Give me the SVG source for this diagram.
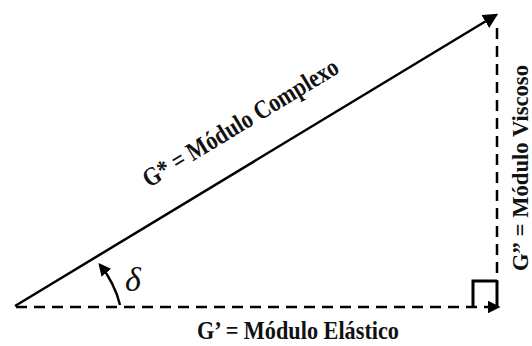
<svg xmlns="http://www.w3.org/2000/svg" width="532" height="346" viewBox="0 0 532 346">
<defs>
<marker id="ah" markerWidth="6" markerHeight="6" refX="5" refY="3" orient="auto" markerUnits="strokeWidth"><path d="M0,0 L6,3 L0,6 Z" fill="#000"/></marker>
<marker id="ahs" markerWidth="5" markerHeight="5" refX="4" refY="2.5" orient="auto" markerUnits="strokeWidth"><path d="M0,0 L5,2.5 L0,5 Z" fill="#000"/></marker>
<style>
.lbl{font-family:"Liberation Serif","Times New Roman",serif;font-weight:bold;fill:#111}
.solid{stroke:#000;stroke-width:2.5;fill:none}
.dash{stroke:#000;stroke-width:2.5;fill:none;stroke-dasharray:11 7}
</style>
</defs>
<rect width="532" height="346" fill="#fff"/>
<g id="connectors">
<line class="solid" x1="15" y1="306" x2="496" y2="15" marker-end="url(#ah)"/>
<line class="dash" x1="16" y1="307" x2="498" y2="307" marker-end="url(#ahs)"/>
<line class="dash" x1="497" y1="28" x2="497" y2="282"/>
<path class="solid" d="M120,305 A100,100 0 0 0 100,265" stroke-width="2.2" marker-end="url(#ahs)"/>
</g>
<g id="right-angle">
<path d="M497,281 H473 V307" stroke="#000" stroke-width="3" fill="none"/>
<line x1="497" y1="281" x2="497" y2="307" stroke="#000" stroke-width="3"/>
</g>
<g id="angle-label">
<text x="125" y="291" font-family="Liberation Serif, serif" font-style="italic" font-size="34" fill="#111">δ</text>
</g>
<g id="complex-label">
<text class="lbl" transform="translate(149,188) rotate(-31.2)" font-size="26" textLength="224" lengthAdjust="spacingAndGlyphs">G* = Módulo Complexo</text>
</g>
<g id="viscous-label">
<text class="lbl" transform="translate(528,271) rotate(-90)" font-size="24" textLength="206" lengthAdjust="spacingAndGlyphs">G” = Módulo Viscoso</text>
</g>
<g id="elastic-label">
<text class="lbl" x="197" y="339" font-size="26" textLength="202" lengthAdjust="spacingAndGlyphs">G’ = Módulo Elástico</text>
</g>
</svg>
